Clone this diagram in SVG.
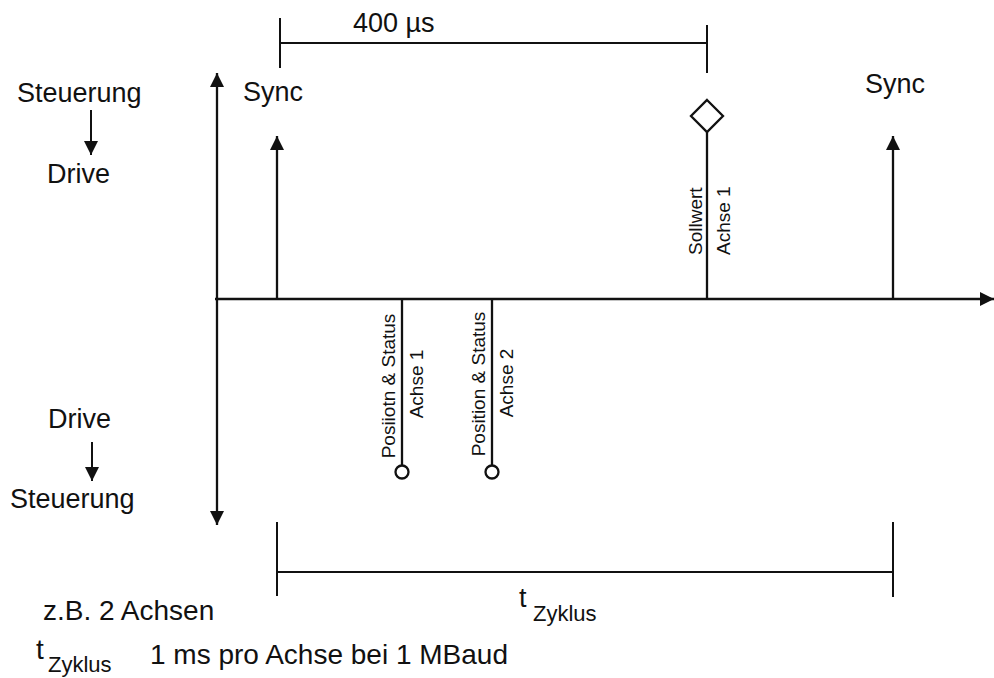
<svg xmlns="http://www.w3.org/2000/svg" width="994" height="678" viewBox="0 0 994 678">
<style>
text{font-family:"Liberation Sans",Arial,sans-serif;fill:#111}
.l{font-size:27px}
.b{font-size:28px}
.r{font-size:19px}
.s{font-size:22px}
.ln{stroke:#111;stroke-width:2.3;fill:none}
.dim{stroke:#111;stroke-width:2;fill:none}
</style>
<defs>
<marker id="ah" markerUnits="userSpaceOnUse" markerWidth="14" markerHeight="14" refX="14" refY="7" orient="auto-start-reverse" viewBox="0 0 14 14">
<path d="M0,0 L14,7 L0,14 z" fill="#111"/>
</marker>
</defs>
<rect width="994" height="678" fill="#fff"/>
<g id="connectors">
<line class="ln" x1="217" y1="525" x2="217" y2="73" marker-start="url(#ah)" marker-end="url(#ah)"/>
<line class="ln" x1="215" y1="299" x2="994" y2="299" marker-end="url(#ah)"/>
<line class="ln" x1="277" y1="299" x2="277" y2="136" marker-end="url(#ah)"/>
<line class="ln" x1="893" y1="299" x2="893" y2="136" marker-end="url(#ah)"/>
<line class="ln" x1="707" y1="299" x2="707" y2="131"/>
<line class="ln" x1="402" y1="299" x2="402" y2="465"/>
<line class="ln" x1="492" y1="299" x2="492" y2="465"/>
<line class="dim" x1="91" y1="110" x2="91" y2="155" marker-end="url(#ah)"/>
<line class="dim" x1="92" y1="442" x2="92" y2="481" marker-end="url(#ah)"/>
<line class="dim" x1="280" y1="43" x2="707" y2="43"/>
<line class="dim" x1="280" y1="18" x2="280" y2="68"/>
<line class="dim" x1="707" y1="25" x2="707" y2="73"/>
<line class="dim" x1="277" y1="572" x2="893" y2="572"/>
<line class="dim" x1="277" y1="522" x2="277" y2="596"/>
<line class="dim" x1="893" y1="522" x2="893" y2="597"/>
</g>
<g id="sollwert">
<polygon points="707,100 723,116 707,132 691,116" fill="#fff" stroke="#111" stroke-width="2.3"/>
<text class="r" transform="translate(702,255) rotate(-90)">Sollwert</text>
<text class="r" transform="translate(730,255) rotate(-90)">Achse 1</text>
</g>
<g id="pos1">
<circle cx="402" cy="472" r="6.5" fill="#fff" stroke="#111" stroke-width="2.3"/>
<text class="r" text-anchor="middle" transform="translate(395,386) rotate(-90)">Posiiotn &amp; Status</text>
<text class="r" text-anchor="middle" transform="translate(423,384) rotate(-90)">Achse 1</text>
</g>
<g id="pos2">
<circle cx="492" cy="472" r="6.5" fill="#fff" stroke="#111" stroke-width="2.3"/>
<text class="r" text-anchor="middle" transform="translate(485,384) rotate(-90)">Position &amp; Status</text>
<text class="r" text-anchor="middle" transform="translate(513,383) rotate(-90)">Achse 2</text>
</g>
<g id="labels">
<text class="l" x="17" y="102">Steuerung</text>
<text class="l" x="47" y="183">Drive</text>
<text class="l" x="48" y="428">Drive</text>
<text class="l" x="10" y="508">Steuerung</text>
<text class="l" x="243" y="101">Sync</text>
<text class="l" x="865" y="93">Sync</text>
<text class="l" x="353" y="32">400 µs</text>
<text class="l" x="519" y="607">t</text>
<text class="s" x="533" y="621">Zyklus</text>
<text class="b" x="43" y="620">z.B. 2 Achsen</text>
<text class="b" x="36" y="659">t</text>
<text class="s" x="48" y="672">Zyklus</text>
<text class="b" x="150" y="664">1 ms pro Achse bei 1 MBaud</text>
</g>
</svg>
